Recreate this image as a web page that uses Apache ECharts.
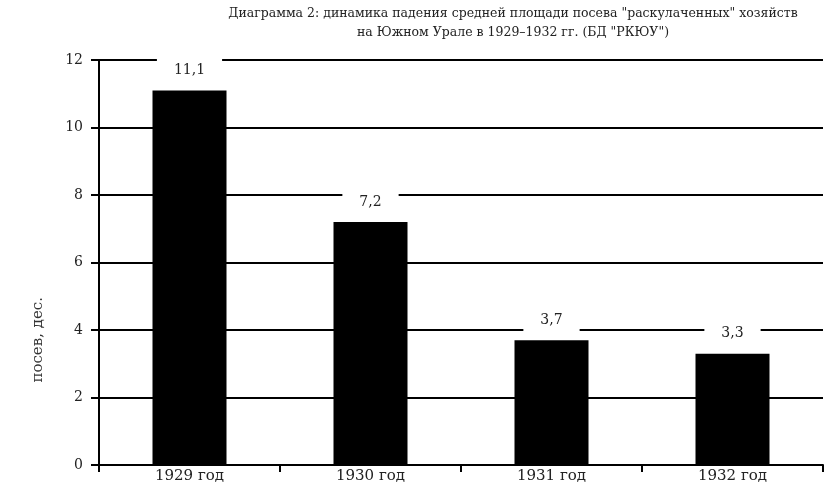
<!DOCTYPE html>
<html>
<head>
<meta charset="utf-8">
<script src="https://cdn.jsdelivr.net/npm/echarts@6/dist/echarts.min.js"></script>
<style>html,body{margin:0;padding:0;background:#fff}#c{width:824px;height:485px}</style>
</head>
<body>
<div id="c"></div>
<script>
var categories = ['1929 год', '1930 год', '1931 год', '1932 год'];
var values = [11.1, 7.2, 3.7, 3.3];
var yTicks = [0, 2, 4, 6, 8, 10, 12];
var titleText = 'Диаграмма 2: динамика падения средней площади посева "раскулаченных" хозяйств\nна Южном Урале в 1929–1932 гг. (БД "РКЮУ")';
var yName = 'посев, дес.';

var font = 'DejaVu Serif';
var chart = echarts.init(document.getElementById('c'), null, {renderer: 'canvas'});
chart.setOption({
  backgroundColor: '#fff',
  animation: false,
  title: {
    text: titleText,
    left: 508, top: -1, textAlign: 'center',
    textStyle: {fontFamily: font, fontSize: 12.5, fontWeight: 'normal', color: '#222', lineHeight: 19}
  },
  graphic: [{
    type: 'text', left: 31, top: 297, rotation: Math.PI / 2,
    style: {text: yName, fontFamily: font, fontSize: 15, fill: '#333'}
  }],
  grid: {left: 99, right: 1, top: 60, bottom: 20, containLabel: false},
  xAxis: {
    type: 'category', data: categories,
    axisLine: {lineStyle: {color: '#000', width: 2}},
    axisTick: {show: true, length: 7, lineStyle: {color: '#000', width: 2}},
    axisLabel: {fontFamily: font, fontSize: 15, color: '#222', margin: 4}
  },
  yAxis: {
    type: 'value', min: yTicks[0], max: yTicks[yTicks.length - 1], interval: 2,
    axisLine: {show: true, lineStyle: {color: '#000', width: 2}},
    axisTick: {show: true, length: 8, lineStyle: {color: '#000', width: 2}},
    axisLabel: {fontFamily: font, fontSize: 14, color: '#222', margin: 16},
    splitLine: {show: true, lineStyle: {color: '#000', width: 2}}
  },
  series: [{
    type: 'bar', data: values, barWidth: 74,
    itemStyle: {color: '#000'},
    label: {
      show: true, position: 'top', distance: 7,
      formatter: function (p) { return String(p.value).replace('.', ','); },
      fontFamily: font, fontSize: 14, color: '#222',
      backgroundColor: '#fff', padding: [6, 17]
    }
  }]
});
</script>
</body>
</html>
